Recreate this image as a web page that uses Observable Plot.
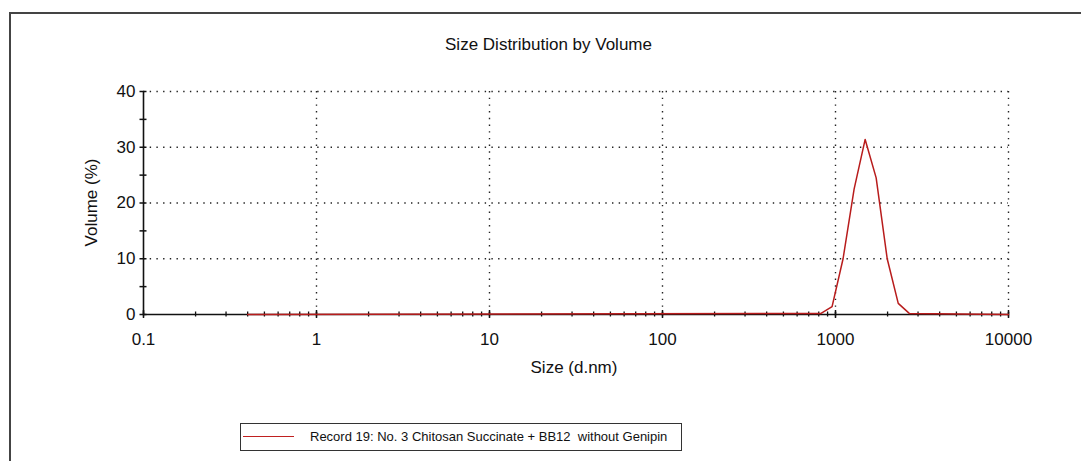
<!DOCTYPE html>
<html>
<head>
<meta charset="utf-8">
<script src="https://cdn.jsdelivr.net/npm/d3@7"></script>
<script src="https://cdn.jsdelivr.net/npm/@observablehq/plot@0.6"></script>
<style>
  html, body { margin: 0; padding: 0; background: #fff; overflow: hidden; }
  #wrap { position: relative; width: 1081px; height: 461px; font-family: "Liberation Sans", Arial, sans-serif; color: #111; }
  #frame { position: absolute; left: 9px; top: 12px; width: 1200px; height: 600px; border-left: 2px solid #444; border-top: 2px solid #444; }
  .lbl { position: absolute; font-size: 17px; line-height: 17px; white-space: nowrap; text-align: center; }
  #plot { position: absolute; left: 0; top: 0; }
  #legend { position: absolute; left: 240px; top: 423px; width: 440px; height: 26px; border: 1px solid #333; background: #fff; }
  #legend .swatch { position: absolute; left: 2px; top: 12px; width: 51px; height: 0; border-top: 1.5px solid #c02020; }
  #legend .txt { position: absolute; left: 69px; top: 6px; font-size: 13px; line-height: 14px; white-space: pre; }
</style>
</head>
<body>
<div id="wrap">
  <div id="frame"></div>
  <div id="plot"></div>
  <div id="title" class="lbl"></div>
  <div id="ylabel" class="lbl"></div>
  <div id="xlabel" class="lbl"></div>
  <div id="legend"><div class="swatch"></div><div class="txt"></div></div>
</div>
<script>
// ---- chart texts ----
const titleText = "Size Distribution by Volume";
const xLabelText = "Size (d.nm)";
const yLabelText = "Volume (%)";
const seriesName = "Record 19: No. 3 Chitosan Succinate + BB12  without Genipin";

// ---- data (size class in d.nm, volume %) ----
const sizes   = [0.4, 825, 955.4, 1106, 1281, 1484, 1718, 1990, 2305, 2669, 10000];
const volumes = [0,   0.2, 1.4,   10,   22.5, 31.4, 24.5, 10,   2.0,  0.2,  0];

// ---- axes ----
const xDomain = [0.1, 10000];
const yDomain = [0, 40];
const xMajorTicks = [0.1, 1, 10, 100, 1000, 10000];
const xGridTicks = [1, 10, 100, 1000, 10000];
const yMajorTicks = [0, 10, 20, 30, 40];
const yMinorTicks = [5, 15, 25, 35];
const yGridTicks = [10, 20, 30, 40];

const data = sizes.map((s, i) => ({size: s, volume: volumes[i]}));
const xMinorTicks = d3.scaleLog().domain(xDomain).ticks();

const chart = Plot.plot({
  width: 1081,
  height: 461,
  marginLeft: 143,
  marginRight: 73,
  marginTop: 91,
  marginBottom: 147,
  style: {fontFamily: "'Liberation Sans', Arial, sans-serif", fontSize: "17px", color: "#111", background: "transparent", overflow: "visible"},
  x: {type: "log", domain: xDomain, ticks: xMajorTicks, tickFormat: d => String(d), tickSize: 0, tickPadding: 18, label: null},
  y: {domain: yDomain, ticks: yMajorTicks, tickSize: 0, tickPadding: 8, label: null},
  marks: [
    // dotted grid
    Plot.ruleY(yGridTicks, {stroke: "#222", strokeWidth: 1.4, strokeDasharray: "1.4,5.3"}),
    Plot.ruleX(xGridTicks, {stroke: "#222", strokeWidth: 1.4, strokeDasharray: "1.4,5.3"}),
    // axis lines
    Plot.ruleY([yDomain[0]], {stroke: "#111", strokeWidth: 1.6}),
    Plot.ruleX([xDomain[0]], {stroke: "#111", strokeWidth: 1.6}),
    // x ticks crossing the axis
    Plot.ruleX(xMinorTicks, {x: d => d, y1: yDomain[0], y2: yDomain[0], insetTop: -2.5, insetBottom: -2.5, stroke: "#111", strokeWidth: 1.3}),
    Plot.ruleX(xMajorTicks, {x: d => d, y1: yDomain[0], y2: yDomain[0], insetTop: -4, insetBottom: -4, stroke: "#111", strokeWidth: 1.5}),
    // y ticks crossing the axis
    Plot.ruleY(yMajorTicks.concat(yMinorTicks), {y: d => d, x1: xDomain[0], x2: xDomain[0], insetLeft: -3.5, insetRight: -3.5, stroke: "#111", strokeWidth: 1.5}),
    // the distribution
    Plot.line(data, {x: "size", y: "volume", stroke: "#b81c1c", strokeWidth: 1.5})
  ]
});
document.getElementById("plot").appendChild(chart);

// texts placed around the plot
const title = document.getElementById("title");
title.textContent = titleText;
title.style.left = "0px"; title.style.width = "1097px"; title.style.top = "36px";

const xl = document.getElementById("xlabel");
xl.textContent = xLabelText;
xl.style.left = "474px"; xl.style.width = "200px"; xl.style.top = "359px";

const yl = document.getElementById("ylabel");
yl.textContent = yLabelText;
yl.style.left = "31px"; yl.style.width = "120px"; yl.style.top = "194px";
yl.style.transform = "rotate(-90deg)";

document.querySelector("#legend .txt").textContent = seriesName;
</script>
</body>
</html>
